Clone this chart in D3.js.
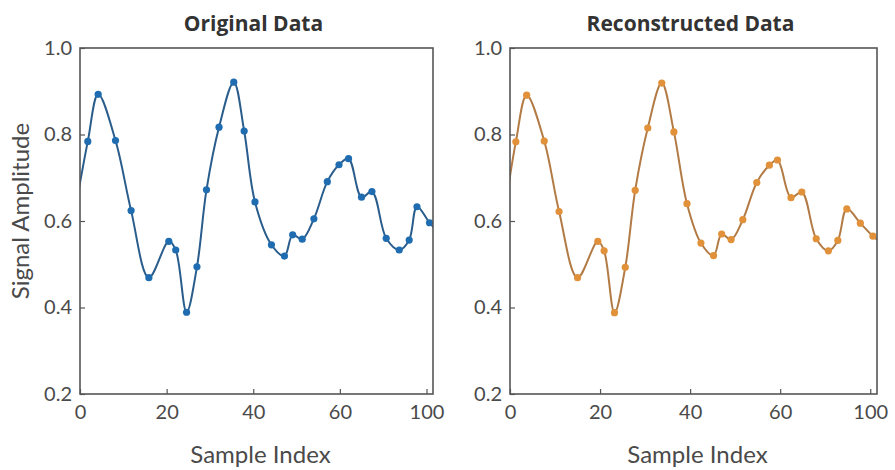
<!DOCTYPE html>
<html>
<head>
<meta charset="utf-8">
<script src="https://cdn.jsdelivr.net/npm/d3@7"></script>
<style>
  body { margin: 0; background: #fff; }
  text { font-family: Lato, "Open Sans", sans-serif; }
</style>
</head>
<body>
<div id="chart"></div>
<script>

// Data

var xTickValues = [0, 20, 40, 60, 80];
var xTickLabels = ["0", "20", "40", "60", "100"];
var yTickValues = [0.2, 0.4, 0.6, 0.8, 1.0];

var origX = [-1.2, 1.8, 4.2, 8.2, 11.8, 15.9, 20.5, 22.1, 24.6, 27.0, 29.2, 32.1, 35.5, 37.9, 40.4,
	44.2, 47.2, 49.1, 51.3, 54.0, 57.1, 59.8, 62.0, 65.0, 67.4, 70.7, 73.7, 76.0, 77.8, 80.7, 83.5];
var origY = [0.62, 0.784, 0.893, 0.786, 0.624, 0.469, 0.553, 0.533, 0.389, 0.494, 0.672, 0.817, 0.921, 0.808, 0.644,
	0.545, 0.519, 0.568, 0.558, 0.605, 0.691, 0.730, 0.744, 0.655, 0.668, 0.560, 0.533, 0.556, 0.633, 0.596, 0.565];

var reconX = [-1.2, 1.3, 3.7, 7.6, 10.9, 15.0, 19.5, 20.9, 23.2, 25.6, 27.8, 30.6, 33.7, 36.4, 39.3,
	42.4, 45.2, 47.0, 49.1, 51.7, 54.8, 57.6, 59.4, 62.4, 64.8, 68.0, 70.7, 72.8, 74.8, 77.8, 80.6, 83.0];
var reconY = [0.62, 0.783, 0.891, 0.785, 0.622, 0.469, 0.553, 0.531, 0.388, 0.493, 0.671, 0.815, 0.919, 0.806, 0.640,
	0.549, 0.520, 0.570, 0.557, 0.603, 0.689, 0.729, 0.741, 0.654, 0.667, 0.559, 0.531, 0.555, 0.628, 0.595, 0.565, 0.545];

// Dimensions

var width = 895;
var height = 470;
var plotTop = 48, plotBottom = 394;

var svg = d3.select("#chart")
	.append("svg")
	.attr("width", width)
	.attr("height", height);

// Panels

function drawPanel (id, xs, ys, left, right, title, lineColor, dotColor, showYLabel) {

	var x = d3.scaleLinear().domain([0, 81.5]).range([left, right]);
	var y = d3.scaleLinear().domain([0.2, 1.0]).range([plotBottom, plotTop]);

	var pts = xs.map(function (d, i) { return [d, ys[i]]; });

	svg.append("clipPath")
		.attr("id", "clip-" + id)
		.append("rect")
		.attr("x", left)
		.attr("y", plotTop)
		.attr("width", right - left)
		.attr("height", plotBottom - plotTop);

	var g = svg.append("g").attr("clip-path", "url(#clip-" + id + ")");

	var line = d3.line()
		.x(function (d) { return x(d[0]); })
		.y(function (d) { return y(d[1]); })
		.curve(d3.curveCatmullRom.alpha(0.5));

	g.append("path")
		.datum(pts)
		.attr("d", line)
		.attr("fill", "none")
		.attr("stroke", lineColor)
		.attr("stroke-width", 2);

	g.selectAll("circle")
		.data(pts)
		.enter()
		.append("circle")
		.attr("cx", function (d) { return x(d[0]); })
		.attr("cy", function (d) { return y(d[1]); })
		.attr("r", 3.6)
		.attr("fill", dotColor);

	// Axes (ticks point inwards)

	var yAxis = svg.append("g")
		.attr("transform", "translate(" + left + ",0)")
		.call(d3.axisLeft(y).tickValues(yTickValues).tickFormat(d3.format(".1f"))
			.tickSizeInner(-5).tickSizeOuter(0).tickPadding(8));

	var xAxis = svg.append("g")
		.attr("transform", "translate(0," + plotBottom + ")")
		.call(d3.axisBottom(x).tickValues(xTickValues)
			.tickFormat(function (d, i) { return xTickLabels[i]; })
			.tickSizeInner(-5).tickSizeOuter(0).tickPadding(11));

	[xAxis, yAxis].forEach(function (a) {
		a.select(".domain").remove();
		a.selectAll("line").attr("stroke", "#555").attr("stroke-width", 1.2);
		a.selectAll("text")
			.attr("fill", "#4a4a4a")
			.style("font-family", "Lato, sans-serif")
			.style("font-size", "20px");
	});

	// Frame

	svg.append("rect")
		.attr("x", left)
		.attr("y", plotTop)
		.attr("width", right - left)
		.attr("height", plotBottom - plotTop)
		.attr("fill", "none")
		.attr("stroke", "#555")
		.attr("stroke-width", 1.6);

	svg.append("text")
		.attr("x", (left + right) / 2 - 3)
		.attr("y", 31)
		.attr("text-anchor", "middle")
		.attr("fill", "#333")
		.style("font-family", "'Open Sans', sans-serif")
		.style("font-size", "21px")
		.style("font-weight", "bold")
		.text(title);

	svg.append("text")
		.attr("x", (left + right) / 2 + 4)
		.attr("y", 463)
		.attr("text-anchor", "middle")
		.attr("fill", "#4a4a4a")
		.style("font-size", "24px")
		.text("Sample Index");

	if (showYLabel) {
		svg.append("text")
			.attr("transform", "translate(29,211) rotate(-90)")
			.attr("text-anchor", "middle")
			.attr("fill", "#4a4a4a")
			.style("font-size", "24px")
			.text("Signal Amplitude");
	}
}

drawPanel("orig", origX, origY, 80, 433, "Original Data", "#2a5d8c", "#1f6db0", true);
drawPanel("recon", reconX, reconY, 510, 877, "Reconstructed Data", "#b27b45", "#e0913a", false);

</script>
</body>
</html>
